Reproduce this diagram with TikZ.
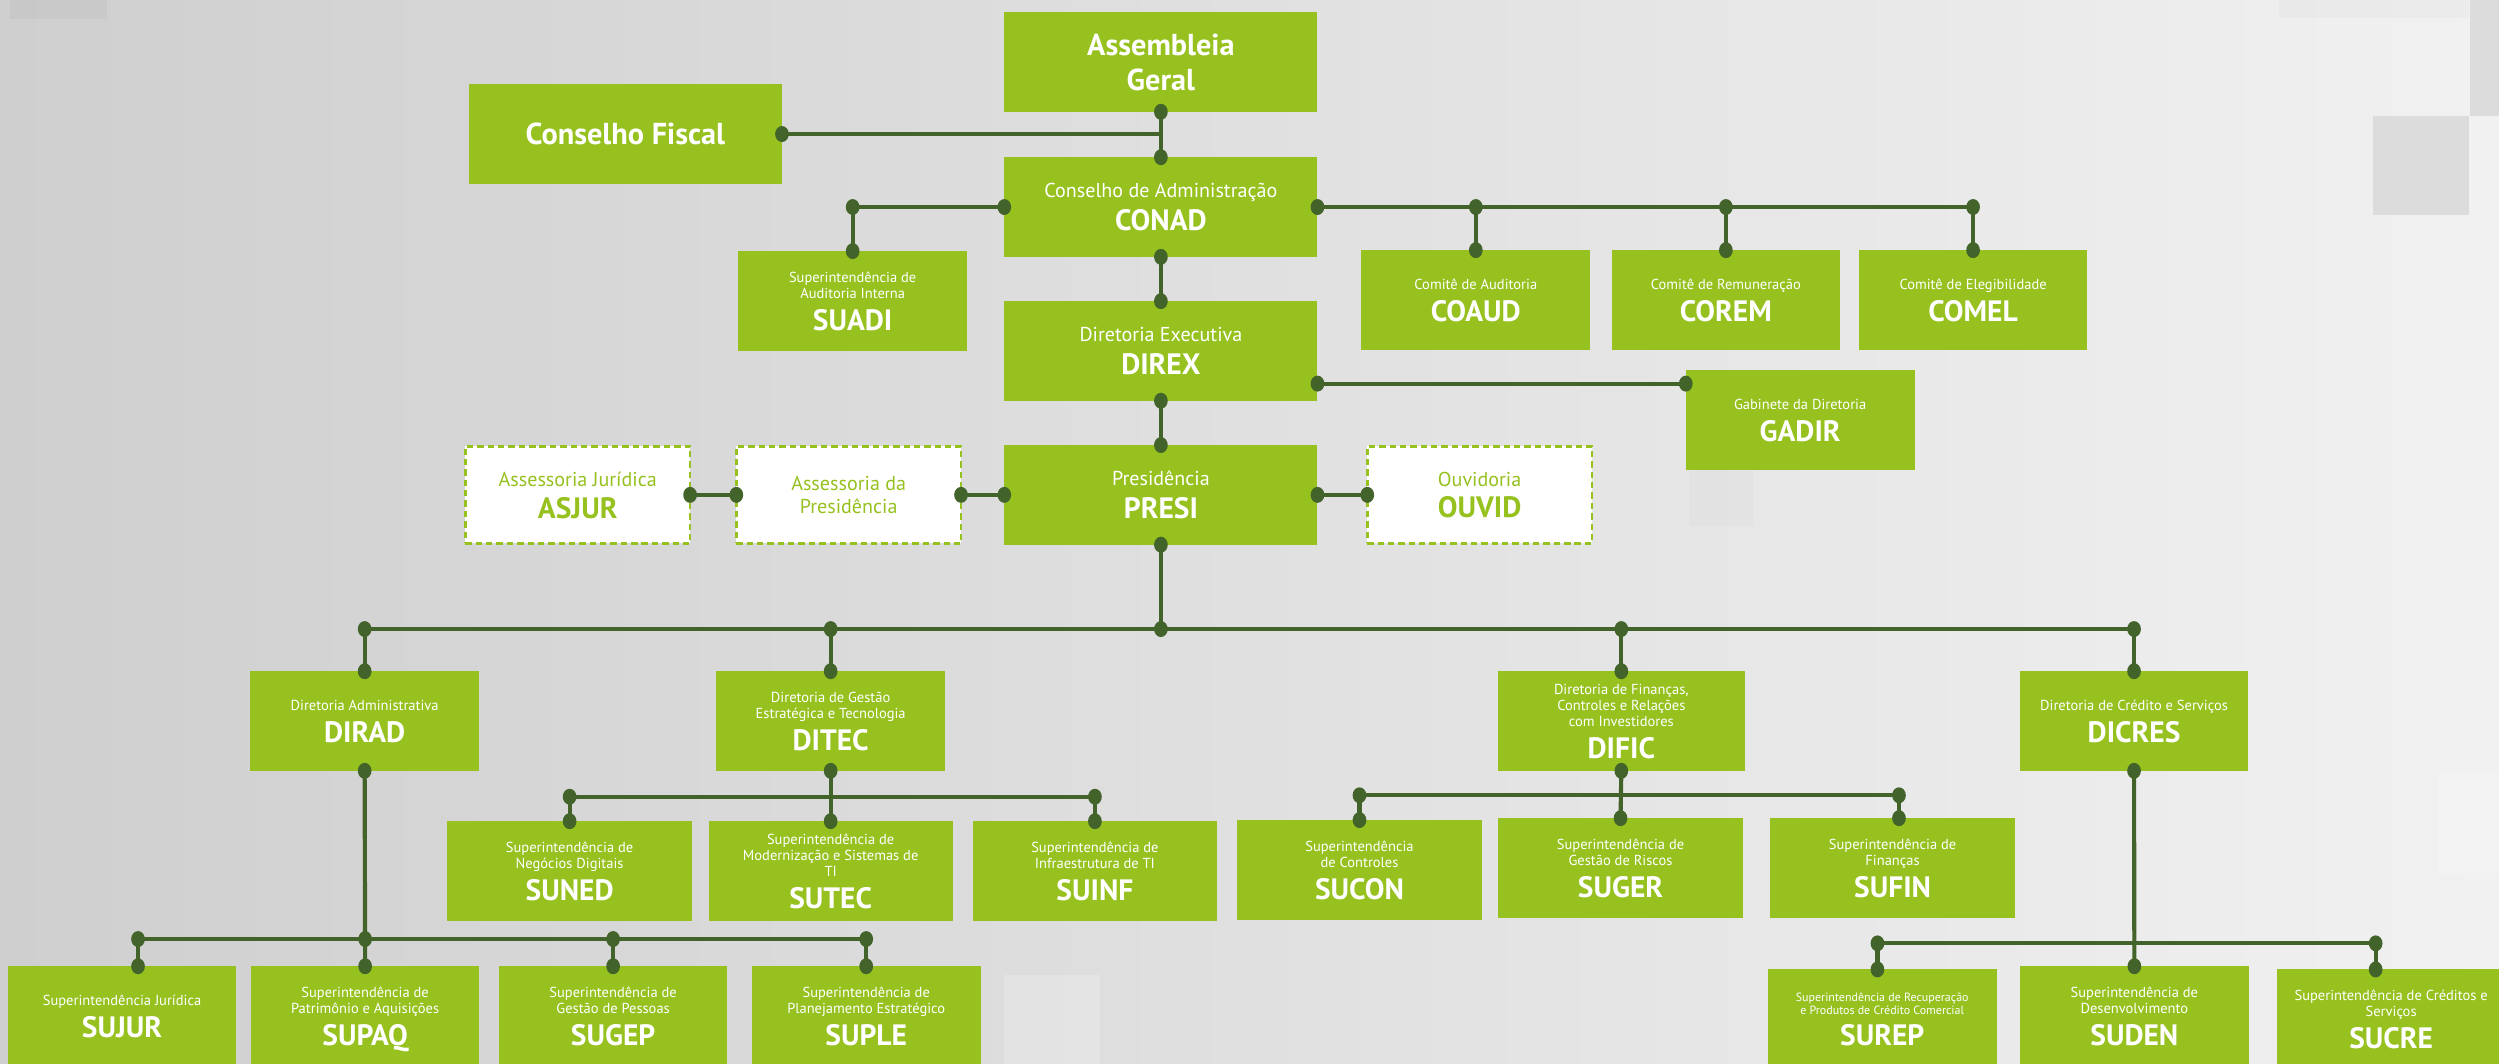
\documentclass[tikz,border=0pt]{standalone}
\usepackage{fontspec}
\setmainfont{PT Sans}
\usetikzlibrary{calc}
\definecolor{boxg}{RGB}{150,193,31}
\definecolor{lineg}{RGB}{66,99,42}
\definecolor{bgl}{RGB}{207,207,207}
\definecolor{bgr}{RGB}{241,241,241}
\definecolor{sqd}{RGB}{220,220,220}
\newcommand\fbig{\fontsize{19}{22}\bfseries\selectfont}
\newcommand\fcode{\fontsize{18.5}{21}\bfseries\selectfont}
\newcommand\fmid{\fontsize{12.6}{14}\selectfont}
\newcommand\fsm{\fontsize{9.1}{10}\selectfont}
\newcommand\ftiny{\fontsize{7.5}{8}\selectfont}
\newcommand\code[1]{\smash{\fcode #1}}
\newcommand\dt[1]{\fill[lineg] (#1) ellipse [x radius=4.3pt, y radius=5pt];}
\begin{document}
\begin{tikzpicture}[x=1pt,y=-1pt,
  gbox/.style={fill=boxg,text=white,align=center,inner sep=0pt,outer sep=0pt,minimum height=62.5pt,minimum width=143.5pt,font=\fsm},
  widebox/.style={gbox,minimum width=196.5pt},
  midbox/.style={gbox,minimum width=153.3pt},
  dbox/.style={gbox,fill=white,text=boxg,draw=boxg,line width=1.7pt,dash pattern=on 4pt off 2.5pt,minimum width=141pt,minimum height=61pt},
  fontmid/.style={font=\fmid},
  fontbig/.style={font=\fbig},
  fonttiny/.style={font=\ftiny},
  conn/.style={draw=lineg,line width=2.6pt}]
\useasboundingbox (0,0) rectangle (1568,667.6);
\shade[left color=bgl,right color=bgr] (0,0) rectangle (1568,667.6);
% faint background squares
\fill[sqd] (1489,73) rectangle (1549,135);
\fill[sqd] (1550,0) rectangle (1568,73);
\fill[black,opacity=0.02] (1430,0) rectangle (1549,11);
\fill[black,opacity=0.03] (6,0) rectangle (67,12);
\fill[white,opacity=0.2] (1530,485) rectangle (1568,548);
\fill[white,opacity=0.2] (630,612) rectangle (690,667.6);
\fill[black,opacity=0.015] (1060,295) rectangle (1100,330);
% nodes
\node[widebox,fontbig] (ag) at (728.4,38.9) {Assembleia\\Geral};
\node[widebox,fontbig] (cf) at (392.4,84.1) {Conselho Fiscal};
\node[widebox,fontmid] (conad) at (728.4,129.9) {Conselho de Administração\\[6.6pt]\code{CONAD}};
\node[gbox] (suadi) at (535,188.8) {Superintendência de\\Auditoria Interna\\[10pt]\code{SUADI}};
\node[gbox] (coaud) at (926,188.2) {Comitê de Auditoria\\[10pt]\code{COAUD}};
\node[gbox] (corem) at (1082.9,188.2) {Comitê de Remuneração\\[10pt]\code{COREM}};
\node[gbox] (comel) at (1238,188.2) {Comitê de Elegibilidade\\[10pt]\code{COMEL}};
\node[widebox,fontmid] (direx) at (728.4,220.2) {Diretoria Executiva\\[6.6pt]\code{DIREX}};
\node[gbox] (gadir) at (1129.5,263.5) {Gabinete da Diretoria\\[10pt]\code{GADIR}};
\node[widebox,fontmid] (presi) at (728.4,310.5) {Presidência\\[6.6pt]\code{PRESI}};
\node[dbox,fontmid] (asjur) at (362.5,310.5) {Assessoria Jurídica\\[6pt]\code{ASJUR}};
\node[dbox,fontmid] (aspre) at (532.5,310.5) {Assessoria da\\Presidência};
\node[dbox,fontmid] (ouvid) at (928.4,310.5) {Ouvidoria\\[6pt]\code{OUVID}};
\node[gbox] (dirad) at (228.8,452.4) {Diretoria Administrativa\\[10pt]\code{DIRAD}};
\node[gbox] (ditec) at (521.2,452.4) {Diretoria de Gestão\\Estratégica e Tecnologia\\[10pt]\code{DITEC}};
\node[gbox,minimum width=155pt] (dific) at (1017.3,452.4) {Diretoria de Finanças,\\Controles e Relações\\com Investidores\\[10pt]\code{DIFIC}};
\node[gbox] (dicres) at (1339,452.4) {Diretoria de Crédito e Serviços\\[10pt]\code{DICRES}};
\node[midbox] (suned) at (357.4,546.5) {Superintendência de\\Negócios Digitais\\[10pt]\code{SUNED}};
\node[midbox] (sutec) at (521.2,546.5) {Superintendência de\\Modernização e Sistemas de\\TI\\[10pt]\code{SUTEC}};
\node[midbox] (suinf) at (687,546.5) {Superintendência de\\Infraestrutura de TI\\[10pt]\code{SUINF}};
\node[midbox] (sucon) at (853,545.8) {Superintendência\\de Controles\\[10pt]\code{SUCON}};
\node[midbox] (suger) at (1016.8,544.6) {Superintendência de\\Gestão de Riscos\\[10pt]\code{SUGER}};
\node[midbox] (sufin) at (1187.5,544.6) {Superintendência de\\Finanças\\[10pt]\code{SUFIN}};
\node[gbox] (sujur) at (76.6,637.5) {Superintendência Jurídica\\[10pt]\code{SUJUR}};
\node[gbox] (supaq) at (229.1,637.5) {Superintendência de\\Patrimônio e Aquisições\\[10pt]\code{SUPAQ}};
\node[gbox] (sugep) at (384.7,637.5) {Superintendência de\\Gestão de Pessoas\\[10pt]\code{SUGEP}};
\node[gbox] (suple) at (543.5,637.5) {Superintendência de\\Planejamento Estratégico\\[10pt]\code{SUPLE}};
\node[gbox,fonttiny] (surep) at (1181,639.5) {Superintendência de Recuperação\\e Produtos de Crédito Comercial\\[11.5pt]\code{SUREP}};
\node[gbox] (suden) at (1339.2,637.5) {Superintendência de\\Desenvolvimento\\[10pt]\code{SUDEN}};
\node[gbox] (sucre) at (1500.3,639.5) {Superintendência de Créditos e\\Serviços\\[10pt]\code{SUCRE}};
% connectors
\draw[conn] (ag.south) -- (conad.north);
\draw[conn] (cf.east) -- (cf.east -| ag.south);
\draw[conn] (conad.west) -| (suadi.north);
\draw[conn] (conad.east) -- (conad.east -| comel.north) -- (comel.north);
\draw[conn] (conad.east -| coaud.north) -- (coaud.north);
\draw[conn] (conad.east -| corem.north) -- (corem.north);
\draw[conn] (conad.south) -- (direx.north);
\coordinate (dxr) at ([yshift=-20.5pt]direx.east);
\draw[conn] (dxr) -- (dxr -| gadir.west);
\draw[conn] (direx.south) -- (presi.north);
\draw[conn] (presi.west) -- (aspre.east);
\draw[conn] (aspre.west) -- (asjur.east);
\draw[conn] (presi.east) -- (ouvid.west);
\coordinate (mb) at (728.4,394.7);
\draw[conn] (presi.south) -- (mb);
\draw[conn] (dirad.north |- mb) -- (dicres.north |- mb);
\foreach \n in {dirad,ditec,dific,dicres} {\draw[conn] (\n.north |- mb) -- (\n.north);}
% DITEC group
\coordinate (tb) at (0,499.9);
\draw[conn] (ditec.south) -- (sutec.north);
\draw[conn] (suned.north |- tb) -- (suinf.north |- tb);
\draw[conn] (suned.north |- tb) -- (suned.north);
\draw[conn] (suinf.north |- tb) -- (suinf.north);
% DIFIC group
\coordinate (fb) at (0,499);
\coordinate (sufinn) at ([xshift=4pt]sufin.north);
\draw[conn] (dific.south) -- (suger.north);
\draw[conn] (sucon.north |- fb) -- (sufinn |- fb);
\draw[conn] (sucon.north |- fb) -- (sucon.north);
\draw[conn] (sufinn |- fb) -- (sufinn);
% DIRAD group
\coordinate (ab) at (0,589.2);
\coordinate (sujurn) at ([xshift=10pt]sujur.north);
\draw[conn] (dirad.south) -- (supaq.north);
\draw[conn] (sujurn |- ab) -- (suple.north |- ab);
\draw[conn] (sujurn |- ab) -- (sujurn);
\draw[conn] (sugep.north |- ab) -- (sugep.north);
\draw[conn] (suple.north |- ab) -- (suple.north);
% DICRES group
\coordinate (cb) at (0,591.9);
\coordinate (surepn) at ([xshift=-3pt]surep.north);
\coordinate (sucren) at ([xshift=-9.7pt]sucre.north);
\draw[conn] (dicres.south) -- (suden.north);
\draw[conn] (surepn |- cb) -- (sucren |- cb);
\draw[conn] (surepn |- cb) -- (surepn);
\draw[conn] (sucren |- cb) -- (sucren);
% dots
\dt{ag.south}\dt{conad.north}\dt{cf.east}
\dt{conad.west}\dt{conad.west -| suadi.north}\dt{suadi.north}
\dt{conad.east}
\foreach \n in {coaud,corem,comel} {\dt{conad.east -| \n.north}\dt{\n.north}}
\dt{conad.south}\dt{direx.north}
\dt{dxr}\dt{dxr -| gadir.west}
\dt{direx.south}\dt{presi.north}
\dt{presi.west}\dt{aspre.east}\dt{aspre.west}\dt{asjur.east}
\dt{presi.east}\dt{ouvid.west}
\dt{presi.south}\dt{mb}
\foreach \n in {dirad,ditec,dific,dicres} {\dt{\n.north |- mb}\dt{\n.north}}
\dt{ditec.south}\dt{sutec.north}\dt{suned.north |- tb}\dt{suinf.north |- tb}\dt{suned.north}\dt{suinf.north}
\dt{dific.south}\dt{suger.north}\dt{sucon.north |- fb}\dt{sufinn |- fb}\dt{sucon.north}\dt{sufinn}
\dt{dirad.south}\dt{supaq.north}\dt{sujurn |- ab}\dt{supaq.north |- ab}\dt{sugep.north |- ab}\dt{suple.north |- ab}\dt{sujurn}\dt{sugep.north}\dt{suple.north}
\dt{dicres.south}\dt{suden.north}\dt{surepn |- cb}\dt{sucren |- cb}\dt{surepn}\dt{sucren}
\end{tikzpicture}
\end{document}
